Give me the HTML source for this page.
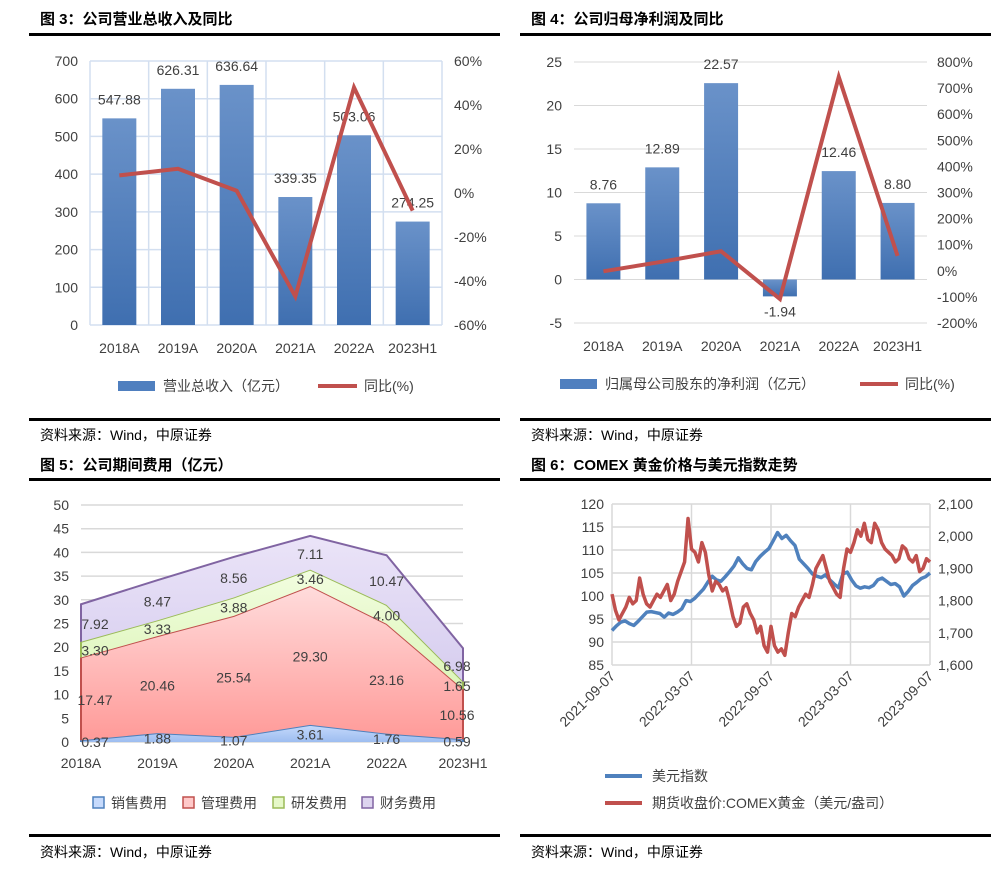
<!DOCTYPE html>
<html><head><meta charset="utf-8"><style>
body{margin:0;background:#fff;}
svg{display:block;font-family:"Liberation Sans","Noto Sans CJK SC",sans-serif;}
.t{font-size:14px;fill:#404040}
.title{font-size:15px;font-weight:bold;fill:#000}
.src{font-size:14px;fill:#000}
</style></head><body>
<svg id="s" width="1001" height="876" viewBox="0 0 1001 876">
<defs>
<linearGradient id="gBar" x1="0" y1="0" x2="0" y2="1"><stop offset="0" stop-color="#6a92c9"/><stop offset="1" stop-color="#3f6fb0"/></linearGradient>
<linearGradient id="gBlue" x1="0" y1="0" x2="0" y2="1"><stop offset="0" stop-color="#c6dafc"/><stop offset="1" stop-color="#9dbdf0"/></linearGradient>
<linearGradient id="gRed" x1="0" y1="0" x2="0" y2="1"><stop offset="0" stop-color="#ffdcdc"/><stop offset="1" stop-color="#ff9a98"/></linearGradient>
<linearGradient id="gGreen" x1="0" y1="0" x2="0" y2="1"><stop offset="0" stop-color="#f2fde0"/><stop offset="1" stop-color="#dcf5b8"/></linearGradient>
<linearGradient id="gPurple" x1="0" y1="0" x2="0" y2="1"><stop offset="0" stop-color="#ebe4f8"/><stop offset="1" stop-color="#d6cdef"/></linearGradient>
</defs>
<text x="40" y="24" class="title">图 3：公司营业总收入及同比</text>
<rect x="29" y="33" width="471" height="3" fill="#000"/>
<text x="531" y="24" class="title">图 4：公司归母净利润及同比</text>
<rect x="520" y="33" width="471" height="3" fill="#000"/>
<rect x="29" y="418" width="471" height="3" fill="#000"/>
<text x="40" y="440" class="src">资料来源：Wind，中原证券</text>
<rect x="520" y="418" width="471" height="3" fill="#000"/>
<text x="531" y="440" class="src">资料来源：Wind，中原证券</text>
<text x="40" y="470" class="title">图 5：公司期间费用（亿元）</text>
<rect x="29" y="478" width="471" height="3" fill="#000"/>
<text x="531" y="470" class="title">图 6：COMEX 黄金价格与美元指数走势</text>
<rect x="520" y="478" width="471" height="3" fill="#000"/>
<rect x="29" y="834" width="471" height="3" fill="#000"/>
<text x="40" y="857" class="src">资料来源：Wind，中原证券</text>
<rect x="520" y="834" width="471" height="3" fill="#000"/>
<text x="531" y="857" class="src">资料来源：Wind，中原证券</text>
</svg>
<script>
const cats1 = ["2018A","2019A","2020A","2021A","2022A","2023H1"];
const revenue = [547.88,626.31,636.64,339.35,503.06,274.25];
const revYoy = [8,11,1,-47,48,-8];
const rev1Ticks = [0,100,200,300,400,500,600,700];
const yoy1Ticks = [-60,-40,-20,0,20,40,60];

const profit = [8.76,12.89,22.57,-1.94,12.46,8.80];
const profitYoy = [-2,35,75,-108,743,57];
const p2Ticks = [-5,0,5,10,15,20,25];
const yoy2Ticks = [-200,-100,0,100,200,300,400,500,600,700,800];

const sales = [0.37,1.88,1.07,3.61,1.76,0.59];
const admin = [17.47,20.46,25.54,29.30,23.16,10.56];
const rnd = [3.3,3.33,3.88,3.46,4.00,1.65];
const finance = [7.92,8.47,8.56,7.11,10.47,6.98];
const exp3Ticks = [0,5,10,15,20,25,30,35,40,45,50];

const usd = [92.5,93.5,94.3,94.6,94,93.6,94.5,95.5,96.5,96.6,96.4,96.2,95.4,96.3,96,96.5,97.2,99,98.8,99.5,100.5,101.5,103,104.3,103.5,103.2,104.2,105.3,106.5,108.3,107,106,105.7,107.5,108.6,109.5,110.3,112,113.8,112.5,113.2,112,111,108,107,106,104.8,104.3,104,104.6,103.5,102.6,101.8,104.8,105.2,103.5,102.2,101.7,102,101.8,102.3,103.5,103.9,103.2,102.5,102.7,102,100,101,102.3,103,103.8,104.2,105];
const gold = [1820,1770,1740,1760,1780,1810,1790,1800,1870,1820,1790,1780,1800,1820,1810,1830,1850,1800,1820,1860,1890,1920,2055,1960,1950,1920,1980,1950,1880,1830,1860,1850,1830,1840,1800,1750,1720,1730,1780,1790,1760,1740,1700,1720,1660,1640,1720,1660,1640,1650,1630,1700,1760,1750,1780,1800,1820,1810,1850,1900,1920,1940,1900,1860,1840,1820,1810,1900,1960,1950,1980,2020,2000,2040,1990,1980,2040,2020,1980,1960,1950,1940,1920,1930,1970,1960,1930,1920,1940,1890,1900,1930,1920];
const xTicks4 = ["2021-09-07","2022-03-07","2022-09-07","2023-03-07","2023-09-07"];
const usdTicks = [85,90,95,100,105,110,115,120];
const goldTicks = [1600,1700,1800,1900,2000,2100];

const NS="http://www.w3.org/2000/svg";
const svg=document.getElementById('s');
function mk(tag,attrs,txt){const e=document.createElementNS(NS,tag);for(const k in attrs)e.setAttribute(k,attrs[k]);if(txt!==undefined)e.textContent=txt;svg.appendChild(e);return e;}
function lin(d0,d1,r0,r1){return v=>r0+(v-d0)*(r1-r0)/(d1-d0);}
function fmtC(v){return v.toLocaleString('en-US');}

// ---------- Chart 1 ----------
(function(){
const L=90,R=442,T=61,B=325,n=cats1.length,w=(R-L)/n;
const y=lin(0,700,B,T), y2=lin(-60,60,B,T), cx=i=>L+w*(i+0.5);
rev1Ticks.forEach(v=>{const g=mk('line',{x1:L,x2:R,y1:y(v),y2:y(v),stroke:'#d3dff0','stroke-width':1.5});

const t=mk('text',{x:L-12,y:y(v)+5,'text-anchor':'end',class:'t',fill:'#1f3d6b'},String(v));
});
for(let i=0;i<=n;i++){const g=mk('line',{x1:L+w*i,x2:L+w*i,y1:T,y2:B,stroke:'#d3dff0','stroke-width':1.5});
}
yoy1Ticks.forEach(v=>{const t=mk('text',{x:R+12,y:y2(v)+5,class:'t'},v+'%');
});
revenue.forEach((v,i)=>{const b=mk('rect',{x:cx(i)-17,y:y(v),width:34,height:B-y(v),fill:'url(#gBar)'});

const t=mk('text',{x:cx(i),y:y(v)-14,'text-anchor':'middle',class:'t',fill:'#1f3d6b','font-size':'14'},v.toFixed(2));

const c=mk('text',{x:cx(i),y:B+28,'text-anchor':'middle',class:'t'},cats1[i]);
});
const p=mk('polyline',{points:revYoy.map((v,i)=>cx(i)+','+y2(v)).join(' '),fill:'none',stroke:'#c0504d','stroke-width':4,'stroke-linejoin':'miter'});

const lg=mk('rect',{x:118,y:381,width:37,height:10,fill:'#4f7fbf'});
const lt=mk('text',{x:163,y:391,class:'t'},'营业总收入（亿元）');
const ll=mk('line',{x1:318,x2:357,y1:386,y2:386,stroke:'#c0504d','stroke-width':4});
const lt2=mk('text',{x:364,y:391,class:'t'},'同比(%)');
})();

// ---------- Chart 2 ----------
(function(){
const L=574,R=927,T=62,B=323,n=cats1.length,w=(R-L)/n;
const y=lin(-5,25,B,T), y2=lin(-200,800,B,T), cx=i=>L+w*(i+0.5);
p2Ticks.forEach(v=>{const g=mk('line',{x1:L,x2:R,y1:y(v),y2:y(v),stroke:'#d9d9d9','stroke-width':1});

const t=mk('text',{x:L-12,y:y(v)+5,'text-anchor':'end',class:'t'},String(v));
});
yoy2Ticks.forEach(v=>{const t=mk('text',{x:R+10,y:y2(v)+5,class:'t','font-size':'13'},v+'%');
});
profit.forEach((v,i)=>{const top=Math.min(y(v),y(0)),h=Math.abs(y(v)-y(0));
const b=mk('rect',{x:cx(i)-17,y:top,width:34,height:h,fill:'url(#gBar)'});

const ly=v>=0?y(v)-14:y(v)+20;
const t=mk('text',{x:cx(i),y:ly,'text-anchor':'middle',class:'t'},v.toFixed(2));

const c=mk('text',{x:cx(i),y:B+28,'text-anchor':'middle',class:'t'},cats1[i]);
});
const p=mk('polyline',{points:profitYoy.map((v,i)=>cx(i)+','+y2(v)).join(' '),fill:'none',stroke:'#c0504d','stroke-width':4});

const lg=mk('rect',{x:560,y:379,width:37,height:10,fill:'#4f7fbf'});
const lt=mk('text',{x:605,y:389,class:'t'},'归属母公司股东的净利润（亿元）');
const ll=mk('line',{x1:860,x2:898,y1:384,y2:384,stroke:'#c0504d','stroke-width':4});
const lt2=mk('text',{x:905,y:389,class:'t'},'同比(%)');
})();

// ---------- Chart 3 ----------
(function(){
const L=81,R=463,T=505,B=742,n=cats1.length;
const y=lin(0,50,B,T), x=i=>L+(R-L)*i/(n-1);
exp3Ticks.forEach(v=>{const g=mk('line',{x1:L,x2:R,y1:y(v),y2:y(v),stroke:'#d9d9d9','stroke-width':1.5});

const t=mk('text',{x:L-12,y:y(v)+5,'text-anchor':'end',class:'t',fill:'#595959'},String(v));
});
const series=[[sales,'url(#gBlue)','#4f81bd','sales'],[admin,'url(#gRed)','#c0504d','admin'],[rnd,'url(#gGreen)','#9bbb59','rnd'],[finance,'url(#gPurple)','#8064a2','finance']];
let base=cats1.map(()=>0);
series.forEach(([arr,fill,stroke,nm])=>{
const top=base.map((b,i)=>b+arr[i]);
const pts=top.map((v,i)=>x(i)+','+y(v));
const bpts=base.map((v,i)=>x(i)+','+y(v)).reverse();
const a=mk('polygon',{points:pts.concat(bpts).join(' '),fill:fill,stroke:'none'});

const l=mk('polyline',{points:[x(0)+','+y(base[0])].concat(pts).concat([x(n-1)+','+y(base[n-1])]).join(' '),fill:'none',stroke:stroke,'stroke-width':2});

base=top;});
base=cats1.map(()=>0);
series.forEach(([arr,,,nm])=>{arr.forEach((v,i)=>{const mid=base[i]+v/2;
const t=mk('text',{x:x(i)+(i==0?14:i==n-1?-6:0),y:y(mid)+6,'text-anchor':'middle',class:'t','font-size':'15',fill:'#595959'},v.toFixed(2));
});
base=base.map((b,i)=>b+arr[i]);});
cats1.forEach((c,i)=>{const t=mk('text',{x:x(i),y:768,'text-anchor':'middle',class:'t',fill:'#595959'},c);
});
const leg=[['销售费用','#c6dafc','#4f81bd',93],['管理费用','#ffc9c9','#c0504d',183],['研发费用','#e6f8c8','#9bbb59',273],['财务费用','#ddd4ef','#8064a2',362]];
leg.forEach(([s,f,st,lx])=>{const r=mk('rect',{x:lx,y:797,width:11,height:11,fill:f,stroke:st,'stroke-width':1.5});

const t=mk('text',{x:lx+18,y:808,class:'t',fill:'#595959'},s);
});
})();

// ---------- Chart 4 ----------
(function(){
const L=612,R=930,T=504,B=665;
const y=lin(85,120,B,T), y2=lin(1600,2100,B,T);
usdTicks.forEach(v=>{const g=mk('line',{x1:L,x2:R,y1:y(v),y2:y(v),stroke:'#d9d9d9','stroke-width':1.5});

const t=mk('text',{x:L-8,y:y(v)+5,'text-anchor':'end',class:'t','font-size':'15'},String(v));
});
goldTicks.forEach(v=>{const t=mk('text',{x:R+8,y:y2(v)+5,class:'t','font-size':'15'},fmtC(v));
});
const m=xTicks4.length;
xTicks4.forEach((d,i)=>{const xx=L+(R-L)*i/(m-1);
const g=mk('line',{x1:xx,x2:xx,y1:T,y2:B,stroke:'#d9d9d9','stroke-width':1.5});

const t=mk('text',{x:xx+4,y:B+12,'text-anchor':'end',class:'t','font-size':'14',transform:'rotate(-45 '+(xx+4)+' '+(B+12)+')'},d);
});
const pu=mk('polyline',{points:usd.map((v,i)=>(L+(R-L)*i/(usd.length-1))+','+y(v)).join(' '),fill:'none',stroke:'#4f81bd','stroke-width':3.5,'stroke-linejoin':'round'});

const pg=mk('polyline',{points:gold.map((v,i)=>(L+(R-L)*i/(gold.length-1))+','+y2(v)).join(' '),fill:'none',stroke:'#c0504d','stroke-width':3.5,'stroke-linejoin':'round'});

const l1=mk('line',{x1:605,x2:642,y1:776,y2:776,stroke:'#4f81bd','stroke-width':4});
const t1=mk('text',{x:652,y:781,class:'t'},'美元指数');
const l2=mk('line',{x1:605,x2:642,y1:803,y2:803,stroke:'#c0504d','stroke-width':4});
const t2=mk('text',{x:652,y:808,class:'t'},'期货收盘价:COMEX黄金（美元/盎司）');
})();
</script>
</body></html>
